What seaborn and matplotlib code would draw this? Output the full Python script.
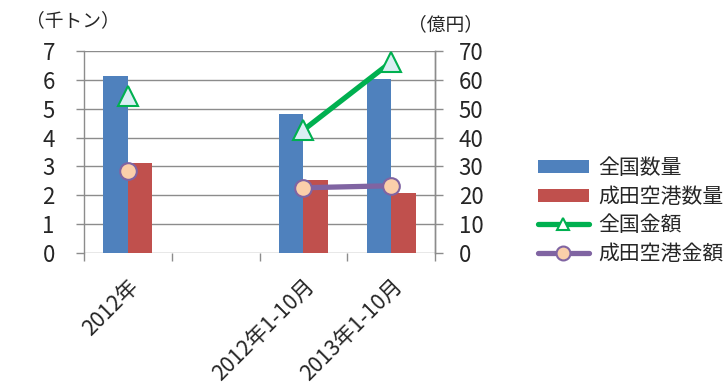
import numpy as np
import pandas as pd
import matplotlib
matplotlib.use("Agg")
import matplotlib.pyplot as plt
import seaborn as sns
from matplotlib.lines import Line2D
from matplotlib.patches import Patch

categories = ["2012年", "", "2012年1-10月", "2013年1-10月"]
national_qty = [6.15, np.nan, 4.83, 6.03]
narita_qty = [3.12, np.nan, 2.52, 2.09]
national_amt = [54.5, np.nan, 42.6, 66.2]
narita_amt = [28.5, np.nan, 22.6, 23.3]
bar_series = ["全国数量", "成田空港数量"]
line_series = ["全国金額", "成田空港金額"]

sns.set_theme(style="white")
plt.rcParams["font.family"] = ["Noto Sans CJK JP", "DejaVu Sans"]

df = pd.DataFrame({
    "cat": categories * 2,
    "val": national_qty + narita_qty,
    "series": [bar_series[0]] * 4 + [bar_series[1]] * 4,
})

fig = plt.figure(figsize=(7.23, 3.87), dpi=100)
ax = fig.add_axes([0.1162, 0.3463, 0.4855, 0.5219])

blue, red = "#4F81BD", "#C0504D"
green, purple = "#00B050", "#8064A2"
grid_c = "#8C8C8C"

sns.barplot(data=df, x="cat", y="val", hue="series", order=categories,
            hue_order=bar_series, palette=[blue, red], width=0.56, gap=0,
            ax=ax, legend=False, saturation=1, edgecolor="none")

ax.set_xlim(-0.5, 3.5)
ax.set_ylim(0, 7)
ax.set_yticks(range(0, 8))
for y in range(0, 8):
    ax.axhline(y, color=grid_c, lw=1.0, zorder=0)
ax.set_axisbelow(True)
ax.set_xlabel("")
ax.set_ylabel("")
for s in ["top", "bottom"]:
    ax.spines[s].set_visible(False)
for s in ["left", "right"]:
    ax.spines[s].set_color(grid_c)
    ax.spines[s].set_linewidth(1.0)

ax.set_xticks([-0.5, 0.5, 1.5, 2.5, 3.5])
ax.set_xticklabels([])
ax.set_xticks([0, 1, 2, 3], minor=True)
ax.set_xticklabels(categories, minor=True, rotation=45, ha="right",
                   rotation_mode="anchor", fontsize=15.5)
ax.tick_params(axis="x", which="major", length=6, width=1, color=grid_c, bottom=True, direction="out")
ax.tick_params(axis="x", which="minor", length=0, pad=16)
ax.tick_params(axis="y", length=6, width=1, color=grid_c, left=True, labelsize=16, pad=15)

ax2 = ax.twinx()
ax2.set_ylim(0, 70)
ax2.set_yticks(range(0, 71, 10))
for s in ["top", "bottom", "left"]:
    ax2.spines[s].set_visible(False)
ax2.spines["right"].set_color(grid_c)
ax2.spines["right"].set_linewidth(1.0)
ax2.tick_params(axis="y", length=6, width=1, color=grid_c, right=True, labelsize=16, pad=11)
ax2.grid(False)

x = np.arange(len(categories))
ax2.plot(x, national_amt, color=green, lw=3.8, marker="^", ms=14,
         mfc="#DAEEF3", mec=green, mew=1.5, zorder=3)
ax2.plot(x, narita_amt, color=purple, lw=3.8, marker="o", ms=12,
         mfc="#FBCFAA", mec=purple, mew=1.5, zorder=3)

fig.text(0.036, 0.947, "（千トン）", fontsize=13.5, ha="left", va="center")
fig.text(0.565, 0.937, "（億円）", fontsize=13.5, ha="left", va="center")

handles = [
    Patch(facecolor=blue, edgecolor="none"),
    Patch(facecolor=red, edgecolor="none"),
    Line2D([], [], color=green, lw=3.8, marker="^", ms=9, mfc="white", mec=green, mew=1.5),
    Line2D([], [], color=purple, lw=3.8, marker="o", ms=10, mfc="#FBCFAA", mec=purple, mew=1.5),
]
fig.legend(handles, bar_series + line_series, loc="center left",
           bbox_to_anchor=(0.744, 0.455), frameon=False, fontsize=15,
           handlelength=2.45, handleheight=0.6, handletextpad=0.45, labelspacing=0.32,
           borderaxespad=0, borderpad=0)

fig.savefig("out.png", dpi=100)
